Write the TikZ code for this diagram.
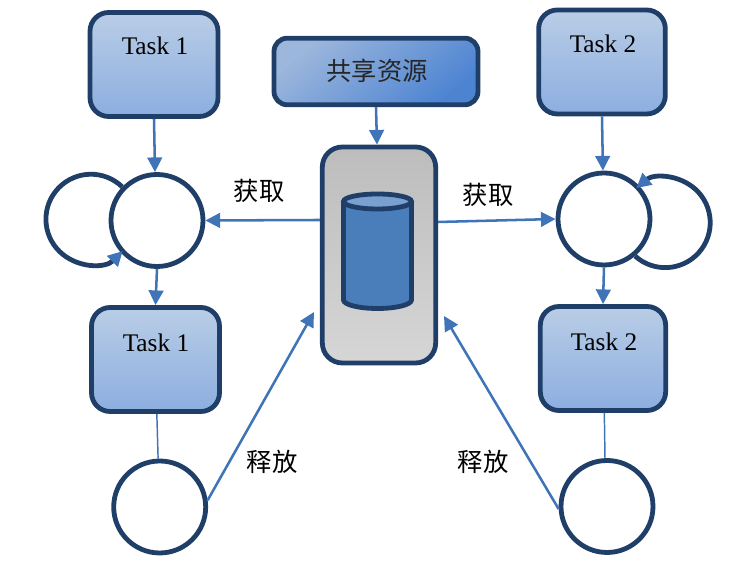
\documentclass[tikz,border=0pt]{standalone}
\usepackage{fontspec}
\usepackage{xcolor}
\setmainfont{Liberation Serif}
\newfontfamily\cjkfont{Noto Sans CJK SC}
\usetikzlibrary{arrows.meta}

\definecolor{framedark}{HTML}{1F3F69}
\definecolor{linkblue}{HTML}{3F74B9}
\definecolor{tasktop}{HTML}{B9CDE6}
\definecolor{taskbottom}{HTML}{8CAEE0}
\definecolor{sharedlight}{HTML}{9DB7DC}
\definecolor{shareddark}{HTML}{4D84D2}
\definecolor{diskbody}{HTML}{4A7EBB}
\definecolor{disktop}{HTML}{7AA0D0}

\begin{document}
\begin{tikzpicture}[
  x=0.75pt, y=0.75pt,
  taskbox/.style={rectangle, rounded corners=14pt, draw=framedark, line width=3.6pt, top color=tasktop, bottom color=taskbottom, minimum width=96pt, minimum height=78pt, inner sep=0pt},
  tasktext/.style={font=\fontsize{19}{20}\selectfont, inner sep=0pt},
  lockcircle/.style={circle, draw=framedark, fill=white, line width=3.6pt, minimum size=69pt, inner sep=0pt},
  loopline/.style={draw=framedark, line width=3.6pt, -{Triangle[color=linkblue, length=11pt, width=11pt]}},
  link/.style={draw=linkblue, line width=1.9pt, -{Triangle[length=11pt, width=11pt]}},
  plainlink/.style={draw=linkblue, line width=1.1pt},
  diskline/.style={draw=framedark, line width=3.6pt},
  tag/.style={font=\cjkfont\fontsize{19}{20}\selectfont, inner sep=0pt}
]
\useasboundingbox (0,0) rectangle (744,570);

% Left column
\node[taskbox] (taskLa) at (154,505.5) {};
\node[tasktext] (taskLaText) at (155,524) {Task 1};
\node[lockcircle] (lockL) at (157,349.5) {};
\node[taskbox] (taskLb) at (155.5,210.5) {};
\node[tasktext] (taskLbText) at (156,227) {Task 1};
\node[lockcircle] (lockLb) at (159.7,63) {};

% Right column
\node[taskbox, minimum width=95pt] (taskRa) at (602,508) {};
\node[tasktext] (taskRaText) at (603,526) {Task 2};
\node[lockcircle] (lockR) at (604,351) {};
\node[taskbox, minimum width=94pt] (taskRb) at (603,211.5) {};
\node[tasktext] (taskRbText) at (604,228) {Task 2};
\node[lockcircle] (lockRb) at (607,63.5) {};

% Shared resource
\node[rectangle, rounded corners=10pt, draw=framedark, line width=3.6pt, left color=sharedlight, right color=shareddark, shading angle=40, minimum width=153pt, minimum height=50pt, inner sep=0pt] (shared) at (376,498.5) {};
\node[tag, text=black!85] (sharedText) at (377,499) {共享资源};
\node[rectangle, rounded corners=15pt, draw=framedark, line width=3.6pt, top color=black!26, bottom color=black!16, minimum width=85pt, minimum height=162pt, inner sep=0pt] (store) at (379,315) {};

% Disk inside the store
\path[diskline, fill=diskbody] (343.5,368.5) -- (343.5,270) arc[start angle=180, end angle=360, x radius=34, y radius=8.5] -- (411.5,368.5);
\path[diskline, fill=disktop] (377.5,368.5) ellipse[x radius=34, y radius=7.5];

% Self loops
\draw[loopline] (lockL.136) arc[start angle=46, end angle=315, radius=45];
\draw[loopline] (lockR.-50) arc[start angle=-132, end angle=130, radius=45];

% Free ends
\coordinate (relL) at (314,258);
\coordinate (relR) at (444,254);

% Connect
\draw[link] (taskLa.south) -- ([xshift=-1.5pt]lockL.north);
\draw[link] (lockL.south) -- (taskLb.north);
\draw[link] (taskRa.south) -- ([xshift=-0.8pt]lockR.north);
\draw[link] (lockR.south) -- (taskRb.north);
\draw[link] (shared.south) -- ([xshift=-1.5pt]store.north);
\draw[link] (store.west |- 0,350) -- (lockL.east);
\draw[link] (store.east |- 0,348) -- (lockR.west);
\draw[plainlink] ([xshift=1pt]taskLb.south) -- ([xshift=-1.2pt]lockLb.north);
\draw[plainlink] ([xshift=1pt]taskRb.south) -- ([xshift=-1.5pt]lockRb.north);
\draw[link] (lockLb.8) -- (relL);
\draw[link] (lockRb.183) -- (relR);

% Labels
\node[tag] (getL) at (259,379) {获取};
\node[tag] (getR) at (488,375) {获取};
\node[tag] (putL) at (272,108) {释放};
\node[tag] (putR) at (483,108) {释放};

\end{tikzpicture}
\end{document}
